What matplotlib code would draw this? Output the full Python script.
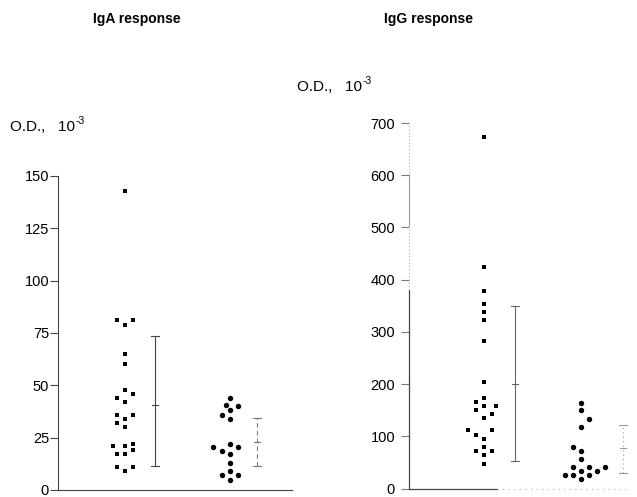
import matplotlib
matplotlib.use("Agg")
import matplotlib.pyplot as plt

plt.rcParams["font.family"] = ["Liberation Sans", "DejaVu Sans"]

# -----------------------------
# Values (O.D. x 10^-3)
iga_sq = [143, 81, 81, 79, 65, 60, 48, 44, 46, 42, 36, 36, 34, 32, 30,
          21, 21, 22, 17, 17, 19, 11, 11, 9]
iga_dot = [44, 40.5, 40, 38, 36, 34, 20.5, 22, 20.5, 18.5, 17, 13, 9, 7, 7, 5]
igg_sq = [674, 424, 378, 354, 338, 322, 283, 205, 174, 166, 158, 158, 151,
          143, 135, 112, 112, 103, 96, 80, 72, 72, 64, 48]
igg_dot = [165, 150, 134, 118, 80, 72, 57, 41.5, 41.5, 41.5, 34, 34,
           25.5, 25.5, 25.5, 18]

# range bars: low / mean / high per group
iga_low = [11.5, 11.5]
iga_mean = [40.5, 23]
iga_high = [73.5, 34.5]
igg_low = [53, 30]
igg_mean = [200, 77]
igg_high = [349, 122]

iga_ticks = [0, 25, 50, 75, 100, 125, 150]
igg_ticks = [0, 100, 200, 300, 400, 500, 600, 700]

# column slot of each point in the dot plot (layout only)
iga_sq_cols = [0, -1, 1, 0, 0, 0, 0, -1, 1, 0, -1, 1, 0, -1, 0,
               -1.4, 0, 1, -1, 0, 1, -1, 1, 0]
iga_dot_cols = [0, -0.5, 1, 0, -1, 0, -2, 0, 1, -1, 0, 0, 0, -1, 1, 0]
igg_sq_cols = [0, 0, 0, 0, 0, 0, 0, 0, 0, -1, 0, 1.5, -1, 1, 0,
               -2, 1, -1, 0, 0, -1, 1, 0, 0]
igg_dot_cols = [0, 0, 1, 0, -1, 0, 0, -1, 1, 3, 0, 2, -2, -1, 1, 0]


def range_bar(ax, x, lo, mid, hi, half, color, ls):
    ax.plot([x, x], [lo, hi], color=color, lw=0.8, linestyle=ls)
    ax.plot([x - half, x + half], [lo, lo], color=color, lw=0.8)
    ax.plot([x - half, x + half], [hi, hi], color=color, lw=0.8)
    ax.plot([x - half * 0.7, x + half * 0.7], [mid, mid], color=color, lw=0.8)


fig = plt.figure(figsize=(6.37, 4.97), dpi=100)

# -----------------------------
# IgA panel
ax1 = fig.add_axes([0.0911, 0.0141, 0.367, 0.6318])
slot = 0.079
ax1.plot([1 + c * slot for c in iga_sq_cols], iga_sq, "s", color="black",
         ms=3.5, mew=0)
ax1.plot([2 + c * slot for c in iga_dot_cols], iga_dot, "o", color="black",
         ms=3.9, mew=0)
range_bar(ax1, 1.286, iga_low[0], iga_mean[0], iga_high[0], 0.038, "#444444", "-")
range_bar(ax1, 2.257, iga_low[1], iga_mean[1], iga_high[1], 0.038, "#777777", (0, (4, 3)))
ax1.set_xlim(0.362, 2.59)
ax1.set_ylim(0, 150)
ax1.set_yticks(iga_ticks)
ax1.set_xticks([])
for s in ["top", "right"]:
    ax1.spines[s].set_visible(False)
for s in ["left", "bottom"]:
    ax1.spines[s].set_color("#444444")
    ax1.spines[s].set_linewidth(0.8)
ax1.tick_params(axis="y", length=6, width=0.8, color="#444444", pad=0.5,
                labelsize=10.5)
ax1.set_facecolor("none")

# -----------------------------
# IgG panel
ax2 = fig.add_axes([0.642, 0.0167, 0.358, 0.7358])
slot = 0.0825
ax2.plot([1 + c * slot for c in igg_sq_cols], igg_sq, "s", color="black",
         ms=3.5, mew=0)
ax2.plot([2 + c * slot for c in igg_dot_cols], igg_dot, "o", color="black",
         ms=3.9, mew=0)
range_bar(ax2, 1.32, igg_low[0], igg_mean[0], igg_high[0], 0.041, "#666666", "-")
range_bar(ax2, 2.43, igg_low[1], igg_mean[1], igg_high[1], 0.041, "#999999", (0, (1, 3)))
ax2.set_xlim(0.227, 2.577)
ax2.set_ylim(0, 700)
ax2.set_yticks(igg_ticks)
ax2.set_xticks([])
for s in ["top", "right", "left", "bottom"]:
    ax2.spines[s].set_visible(False)
# faded axis lines like the scanned original
yt = ax2.get_yaxis_transform()
ax2.plot([0, 0], [0, 380], color="#444444", lw=0.9, transform=yt, clip_on=False)
ax2.plot([0, 0], [380, 700], color="#aaaaaa", lw=0.8, ls=(0, (1, 2)),
         transform=yt, clip_on=False)
ax2.plot([0, 0], [505, 600], color="#999999", lw=0.8, transform=yt, clip_on=False)
ax2.plot([0, 0.386], [0, 0], color="#444444", lw=0.9, transform=ax2.transAxes,
         clip_on=False)
ax2.plot([0.386, 0.95], [0, 0], color="#aaaaaa", lw=0.8, ls=(0, (1, 4)),
         transform=ax2.transAxes, clip_on=False)
ax2.tick_params(axis="y", length=6, width=0.8, color="#777777", pad=4,
                labelsize=10.5)
ax2.set_facecolor("none")

# -----------------------------
# Titles and axis labels
fig.text(0.215, 0.962, "IgA response", ha="center", va="center",
         fontsize=10, fontweight="bold")
fig.text(0.672, 0.962, "IgG response", ha="center", va="center",
         fontsize=10, fontweight="bold")
for x, y in [(0.0157, 0.7445), (0.4662, 0.825)]:
    t = fig.text(x, y, "O.D.,   10", ha="left", va="center", fontsize=11)
    ax1.annotate("-3", xy=(1, 0.55), xycoords=t, xytext=(0.5, 0),
                 textcoords="offset points", fontsize=7.5, ha="left",
                 va="bottom", annotation_clip=False)

fig.savefig("out.png", dpi=100)
